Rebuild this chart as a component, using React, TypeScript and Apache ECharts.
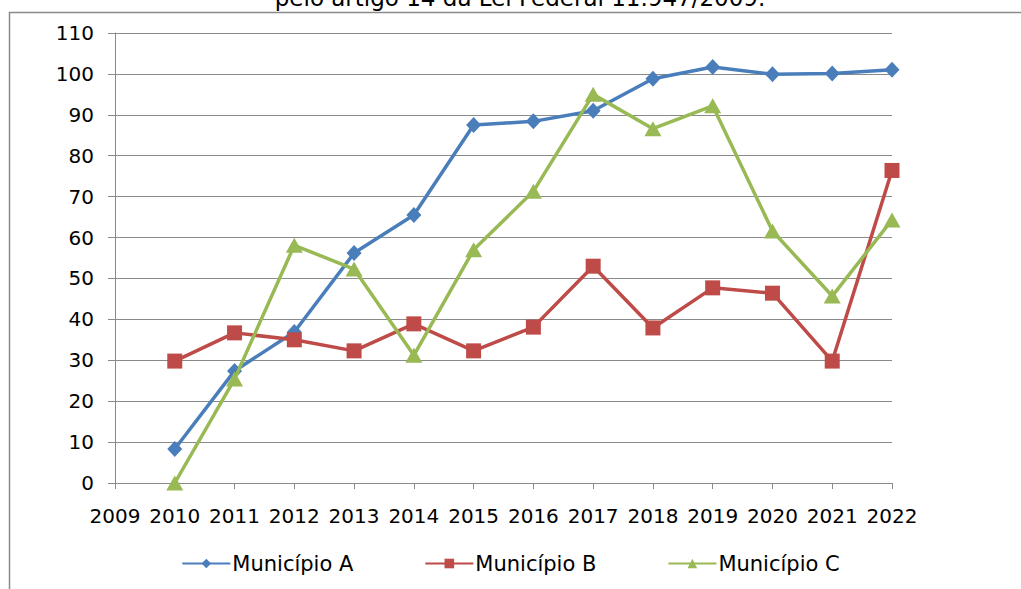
import React, { useEffect, useRef } from "react";
import * as echarts from "echarts";

const years = [2010, 2011, 2012, 2013, 2014, 2015, 2016, 2017, 2018, 2019, 2020, 2021, 2022];
const municipioA = [8.3, 27.4, 36.9, 56.2, 65.5, 87.5, 88.4, 91, 98.8, 101.7, 99.9, 100.1, 101];
const municipioB = [29.8, 36.7, 35, 32.3, 38.9, 32.3, 38.1, 53, 37.9, 47.7, 46.4, 29.8, 76.4];
const municipioC = [0, 25.4, 58.1, 52.3, 31.2, 57, 71.3, 95, 86.6, 92.2, 61.6, 45.7, 64.3];
const seriesNames = ["Município A", "Município B", "Município C"];
const titleText = "pelo artigo 14 da Lei Federal 11.947/2009.";

const FONT = "DejaVu Sans";

export default function App() {
  const ref = useRef<HTMLDivElement>(null);
  useEffect(() => {
    if (!ref.current) return;
    const chart = echarts.init(ref.current, null, { renderer: "svg" });
    const mk = (vals: number[]) => years.map((y, i) => [y, vals[i]]);
    chart.setOption({
      animation: false,
      backgroundColor: "#ffffff",
      graphic: [
        {
          type: "rect",
          shape: { x: 9.5, y: 12.5, width: 1100, height: 700 },
          style: { fill: "none", stroke: "#8a8a8a", lineWidth: 1.5 },
          z: 0,
        },
        {
          type: "text",
          x: 520,
          y: -2,
          style: {
            text: titleText,
            font: `23px "${FONT}"`,
            fill: "#000",
            align: "center",
            verticalAlign: "middle",
          },
        },
      ],
      grid: { left: 115, right: 129, top: 33, bottom: 106, containLabel: false },
      legend: {
        data: seriesNames,
        top: 548,
        left: "center",
        itemWidth: 48,
        itemHeight: 12,
        itemGap: 71,
        textStyle: { fontFamily: FONT, fontSize: 21, color: "#000", padding: [0, 0, 0, -3] },
      },
      xAxis: {
        type: "value",
        min: 2009,
        max: 2022,
        interval: 1,
        axisLine: { show: true, lineStyle: { color: "#8a8a8a", width: 1 } },
        axisTick: { show: true, length: 6, lineStyle: { color: "#8a8a8a" } },
        axisLabel: {
          color: "#000",
          fontFamily: FONT,
          fontSize: 20,
          margin: 23,
          formatter: (v: number) => String(v),
        },
        splitLine: { show: false },
      },
      yAxis: {
        type: "value",
        min: 0,
        max: 110,
        interval: 10,
        axisLine: { show: true, lineStyle: { color: "#8a8a8a", width: 1 } },
        axisTick: { show: true, length: 7, lineStyle: { color: "#8a8a8a" } },
        axisLabel: { color: "#000", fontFamily: FONT, fontSize: 20, margin: 21 },
        splitLine: { show: true, lineStyle: { color: "#8a8a8a", width: 1 } },
      },
      series: [
        {
          name: seriesNames[0],
          type: "line",
          data: mk(municipioA),
          symbol: "diamond",
          symbolSize: [15, 16],
          itemStyle: { color: "#4A7EBB" },
          lineStyle: { color: "#4A7EBB", width: 3.5 },
          z: 3,
        },
        {
          name: seriesNames[1],
          type: "line",
          data: mk(municipioB),
          symbol: "rect",
          symbolSize: 15,
          itemStyle: { color: "#BE4B48" },
          lineStyle: { color: "#BE4B48", width: 3.5 },
          z: 4,
        },
        {
          name: seriesNames[2],
          type: "line",
          data: mk(municipioC),
          symbol: "triangle",
          symbolSize: [17, 15],
          itemStyle: { color: "#98B954" },
          lineStyle: { color: "#98B954", width: 3.5 },
          z: 5,
        },
      ],
    });
    return () => chart.dispose();
  }, []);
  return <div ref={ref} style={{ width: 1021, height: 589, position: "absolute", left: 0, top: 0 }} />;
}
